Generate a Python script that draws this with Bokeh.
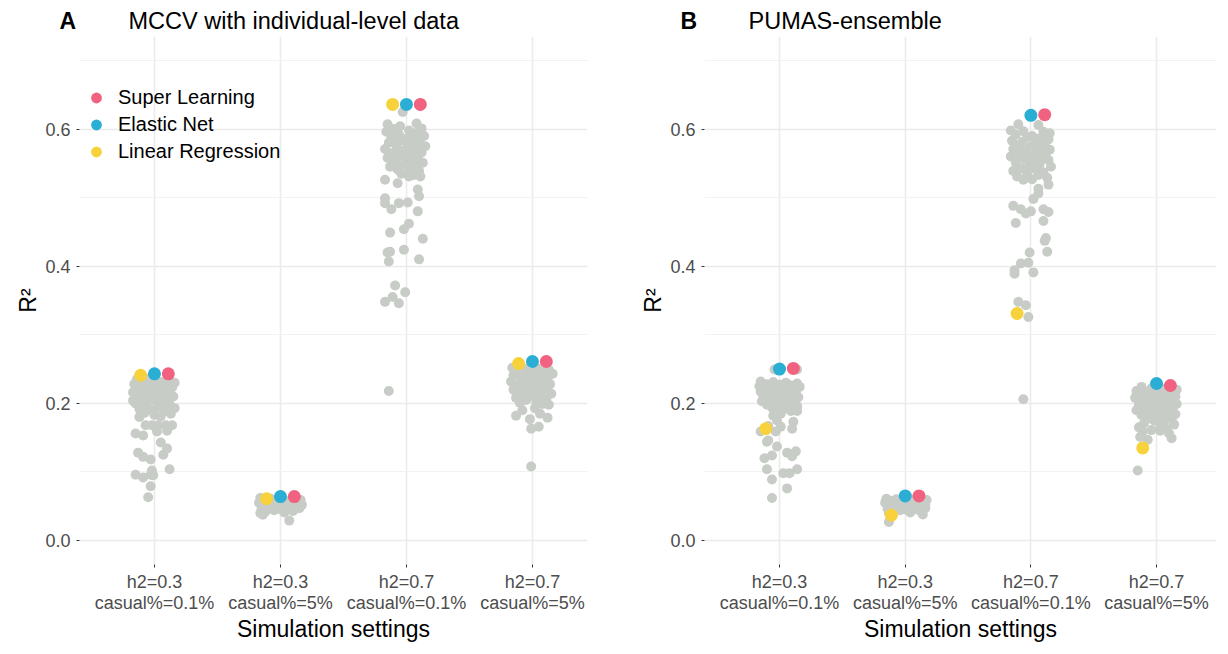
from bokeh.plotting import figure
from bokeh.models import (FixedTicker, Legend, LegendItem, Range1d,
                          PrintfTickFormatter)
from bokeh.layouts import row, column
from bokeh.core.properties import value
from bokeh.embed import file_html
from bokeh.resources import INLINE

settings = ["h2=0.3\ncasual%=0.1%", "h2=0.3\ncasual%=5%",
            "h2=0.7\ncasual%=0.1%", "h2=0.7\ncasual%=5%"]
methods = ["Super Learning", "Elastic Net", "Linear Regression"]

# Best-model R2 per setting
mccv_sl = [0.243, 0.064, 0.636, 0.261]
mccv_en = [0.243, 0.064, 0.636, 0.261]
mccv_lr = [0.241, 0.061, 0.636, 0.258]
pumas_sl = [0.251, 0.065, 0.621, 0.226]
pumas_en = [0.250, 0.065, 0.620, 0.229]
pumas_lr = [0.163, 0.037, 0.331, 0.135]

# Individual model R2 values as (R2, horizontal jitter) pairs
mccv_s1 = [(0.235,-0.14),(0.236,-0.05),(0.232,0.03),(0.234,0.12),(0.230,0.16),
           (0.228,-0.16),(0.226,-0.09),(0.229,-0.02),(0.225,0.06),(0.227,0.10),
           (0.222,-0.12),(0.221,-0.03),(0.219,0.02),(0.220,0.08),(0.223,0.14),
           (0.216,-0.17),(0.214,-0.07),(0.215,0.00),(0.212,0.05),(0.213,0.11),
           (0.209,-0.13),(0.208,-0.04),(0.207,0.09),(0.210,0.15),(0.205,-0.10),
           (0.203,0.01),(0.202,0.06),(0.200,-0.15),(0.199,0.12),(0.197,-0.06),
           (0.195,0.03),(0.193,0.16),(0.192,-0.12),(0.190,-0.02),(0.188,0.08),
           (0.186,-0.08),(0.185,0.13),(0.183,0.00),(0.181,0.05),(0.196,0.10),
           (0.218,-0.10),(0.231,0.07),(0.204,-0.17),(0.211,0.03),(0.224,-0.06),
           (0.180,-0.12),(0.168,-0.07),(0.168,-0.02),(0.168,0.03),(0.168,0.09),
           (0.168,0.14),(0.156,-0.15),(0.153,-0.09),(0.159,0.02),(0.160,0.10),
           (0.143,0.05),(0.134,0.10),(0.125,0.07),(0.128,-0.13),(0.122,-0.09),
           (0.118,-0.03),(0.104,0.12),(0.102,-0.02),(0.096,-0.03),(0.096,-0.15),
           (0.092,-0.09),(0.095,-0.01),(0.079,-0.03),(0.063,-0.05)]
mccv_s2 = [(0.062,-0.16),(0.061,-0.08),(0.060,0.02),(0.061,0.10),(0.059,0.16),
           (0.058,-0.12),(0.057,-0.03),(0.056,0.06),(0.057,0.13),(0.055,-0.17),
           (0.054,-0.07),(0.053,0.00),(0.054,0.09),(0.052,0.17),(0.051,-0.13),
           (0.050,-0.04),(0.049,0.04),(0.050,0.12),(0.048,-0.09),(0.047,0.15),
           (0.046,-0.15),(0.045,0.01),(0.046,0.07),(0.044,-0.05),(0.043,0.10),
           (0.042,-0.12),(0.041,0.03),(0.040,-0.16),(0.052,0.04),(0.058,0.08),
           (0.0375,-0.14),(0.029,0.07)]
mccv_s3 = [(0.607,-0.15),(0.604,-0.05),(0.608,0.08),(0.601,0.12),(0.600,-0.10),
           (0.598,0.02),(0.596,-0.16),(0.594,0.06),(0.592,-0.06),(0.590,0.14),
           (0.588,-0.12),(0.586,0.00),(0.585,0.09),(0.583,-0.03),(0.581,0.04),
           (0.580,-0.14),(0.578,0.11),(0.576,-0.08),(0.575,0.15),(0.573,0.01),
           (0.571,-0.17),(0.570,0.07),(0.568,-0.04),(0.566,0.12),(0.565,-0.11),
           (0.563,0.03),(0.561,-0.06),(0.560,0.09),(0.558,-0.15),(0.556,0.00),
           (0.555,0.05),(0.553,-0.09),(0.551,0.13),(0.549,-0.02),(0.547,0.07),
           (0.545,-0.13),(0.543,0.03),(0.541,-0.07),(0.539,0.10),(0.537,0.01),
           (0.535,-0.04),(0.533,0.06),(0.596,0.10),(0.587,-0.09),(0.574,0.04),
           (0.625,-0.03),(0.531,0.11),(0.531,0.02),(0.521,-0.07),(0.526,-0.17),
           (0.512,0.09),(0.502,0.10),(0.499,-0.17),(0.492,-0.17),(0.483,-0.12),
           (0.492,-0.06),(0.493,0.01),(0.480,0.09),(0.462,0.02),(0.454,-0.02),
           (0.449,-0.13),(0.440,0.13),(0.424,-0.02),(0.421,-0.13),(0.420,-0.15),
           (0.410,0.10),(0.407,-0.14),(0.372,-0.09),(0.362,-0.01),(0.355,-0.11),
           (0.348,-0.17),(0.346,-0.06),(0.218,-0.14)]
mccv_s4 = [(0.252,-0.16),(0.250,-0.06),(0.251,0.04),(0.249,0.13),(0.247,-0.11),
           (0.245,0.00),(0.246,0.09),(0.243,0.16),(0.241,-0.15),(0.240,-0.04),
           (0.239,0.06),(0.237,0.12),(0.235,-0.09),(0.234,0.02),(0.232,-0.17),
           (0.231,0.08),(0.229,-0.03),(0.228,0.14),(0.226,-0.12),(0.225,0.04),
           (0.223,-0.06),(0.222,0.10),(0.220,-0.15),(0.219,0.01),(0.217,0.07),
           (0.215,-0.09),(0.214,0.15),(0.212,-0.02),(0.210,0.05),(0.208,-0.13),
           (0.207,0.11),(0.205,-0.05),(0.203,0.03),(0.201,-0.10),(0.199,0.08),
           (0.244,0.05),(0.236,-0.01),(0.227,0.09),(0.218,-0.07),(0.248,0.11),
           (0.198,0.13),(0.182,-0.13),(0.177,-0.02),(0.185,0.06),(0.179,0.12),
           (0.163,-0.01),(0.166,0.05),(0.190,-0.08),(0.193,0.02),(0.108,-0.01)]

pumas_s1 = [(0.232,-0.15),(0.231,-0.05),(0.230,0.05),(0.229,0.14),(0.228,-0.10),
            (0.227,0.00),(0.226,0.09),(0.225,-0.16),(0.224,0.16),(0.223,-0.06),
            (0.222,0.04),(0.221,0.11),(0.220,-0.12),(0.219,-0.02),(0.218,0.07),
            (0.217,-0.15),(0.216,0.13),(0.215,-0.08),(0.214,0.02),(0.213,0.09),
            (0.212,-0.04),(0.211,-0.13),(0.210,0.05),(0.209,0.15),(0.208,-0.09),
            (0.207,0.00),(0.206,0.10),(0.205,-0.05),(0.204,0.04),(0.203,-0.14),
            (0.202,0.12),(0.201,-0.02),(0.200,0.07),(0.198,-0.10),(0.197,0.02),
            (0.196,0.14),(0.194,-0.06),(0.193,0.05),(0.191,-0.01),(0.189,0.09),
            (0.187,-0.04),(0.185,0.01),(0.228,0.06),(0.218,-0.09),(0.211,0.12),
            (0.2495,-0.04),(0.2495,0.14),(0.189,0.14),(0.182,-0.05),(0.175,-0.02),
            (0.173,0.11),(0.163,0.10),(0.166,0.01),(0.159,-0.03),(0.159,-0.15),
            (0.167,-0.09),(0.146,-0.09),(0.144,-0.10),(0.137,-0.02),(0.128,0.06),
            (0.130,0.13),(0.123,0.10),(0.124,-0.06),(0.120,-0.12),(0.104,-0.10),
            (0.104,0.14),(0.098,0.03),(0.098,0.08),(0.089,-0.06),(0.076,0.06),
            (0.062,-0.06)]
pumas_s2 = [(0.061,-0.15),(0.060,-0.07),(0.062,0.03),(0.061,0.12),(0.059,0.17),
            (0.058,-0.12),(0.057,-0.02),(0.056,0.07),(0.057,0.15),(0.055,-0.16),
            (0.054,-0.06),(0.053,0.02),(0.054,0.10),(0.052,0.16),(0.051,-0.12),
            (0.050,-0.03),(0.049,0.05),(0.050,0.13),(0.048,-0.08),(0.047,0.16),
            (0.046,-0.14),(0.045,0.01),(0.046,0.08),(0.044,-0.04),(0.043,0.12),
            (0.042,-0.10),(0.041,0.04),(0.040,-0.13),(0.053,0.06),(0.058,0.09),
            (0.038,0.14),(0.027,-0.13)]
pumas_s3 = [(0.598,-0.16),(0.597,-0.06),(0.596,0.10),(0.594,0.15),(0.592,-0.12),
            (0.590,0.01),(0.588,-0.03),(0.587,0.08),(0.585,0.14),(0.583,-0.15),
            (0.581,-0.07),(0.580,0.04),(0.578,0.11),(0.576,-0.10),(0.575,0.00),
            (0.573,0.07),(0.571,-0.14),(0.570,0.15),(0.568,-0.04),(0.566,0.05),
            (0.565,0.12),(0.563,-0.09),(0.561,0.02),(0.560,-0.16),(0.558,0.09),
            (0.556,-0.05),(0.555,0.14),(0.553,0.03),(0.551,-0.12),(0.549,0.07),
            (0.547,-0.01),(0.545,0.16),(0.543,-0.08),(0.541,0.04),(0.539,-0.14),
            (0.537,0.10),(0.535,-0.03),(0.533,0.06),(0.531,-0.11),(0.529,0.13),
            (0.527,0.01),(0.526,-0.06),(0.586,0.05),(0.572,0.09),(0.557,-0.02),
            (0.607,-0.10),(0.606,0.06),(0.519,0.14),(0.513,0.06),(0.506,0.06),
            (0.498,0.02),(0.488,-0.14),(0.483,-0.08),(0.477,-0.04),(0.480,0.00),
            (0.483,0.10),(0.479,0.14),(0.466,0.10),(0.463,-0.12),(0.441,0.12),
            (0.437,0.11),(0.421,0.13),(0.420,-0.01),(0.404,-0.08),(0.405,-0.02),
            (0.394,-0.13),(0.389,-0.13),(0.391,0.02),(0.348,-0.10),(0.343,-0.04),
            (0.332,-0.10),(0.326,-0.02),(0.206,-0.06)]
pumas_s4 = [(0.224,-0.12),(0.222,-0.04),(0.221,0.06),(0.220,0.16),(0.218,-0.16),
            (0.217,-0.08),(0.216,0.02),(0.215,0.10),(0.213,-0.13),(0.212,-0.01),
            (0.211,0.07),(0.210,0.15),(0.208,-0.17),(0.207,-0.06),(0.206,0.04),
            (0.205,0.12),(0.203,-0.10),(0.202,0.00),(0.201,0.09),(0.199,0.16),
            (0.198,-0.14),(0.197,-0.03),(0.196,0.06),(0.194,0.13),(0.193,-0.09),
            (0.191,0.02),(0.190,-0.16),(0.189,0.10),(0.187,-0.05),(0.186,0.05),
            (0.184,0.15),(0.183,-0.12),(0.181,0.01),(0.180,0.09),(0.178,-0.07),
            (0.177,0.12),(0.175,-0.02),(0.173,0.06),(0.171,-0.10),(0.169,0.14),
            (0.167,0.03),(0.165,-0.14),(0.163,0.08),(0.161,-0.04),(0.215,0.05),
            (0.159,-0.11),(0.151,-0.13),(0.147,-0.07),(0.160,0.03),(0.156,0.10),
            (0.149,0.12),(0.102,-0.15)]

GRAY = "#C8CCC7"
COLORS = {"Super Learning": "#F0627F", "Elastic Net": "#2AAED4",
          "Linear Regression": "#F7D23C"}
DODGE = {"Linear Regression": -0.11, "Elastic Net": 0.0, "Super Learning": 0.11}
FONT = "Liberation Sans"
TITLE_H = 32
H = 614
TOP, BOTTOM = 4, 82
FRAME_H = H - TOP - BOTTOM


def make_title(letter, title, width, letter_x, title_x):
    t = figure(width=width, height=TITLE_H, x_range=Range1d(0, width),
               y_range=Range1d(0, TITLE_H), output_backend="svg",
               toolbar_location=None, x_axis_location=None,
               y_axis_location=None, min_border=0)
    t.outline_line_color = None
    t.xgrid.visible = False
    t.ygrid.visible = False
    t.text(x=[letter_x], y=[TITLE_H - 20], text=[letter],
           text_font=value(FONT), text_font_size="23px",
           text_font_style="bold", text_baseline="middle", text_align="left",
           text_color="black")
    t.text(x=[title_x], y=[TITLE_H - 20], text=[title],
           text_font=value(FONT), text_font_size="23.5px",
           text_baseline="middle", text_align="left", text_color="black")
    return t


def make_panel(groups, best, width, left, right, xr, legend):
    p = figure(width=width, height=H, x_range=Range1d(*xr),
               y_range=Range1d(-0.035, 0.735), output_backend="svg",
               toolbar_location=None, min_border_left=left,
               min_border_right=right, min_border_top=TOP,
               min_border_bottom=BOTTOM)
    p.outline_line_color = None
    p.background_fill_color = "white"

    xt = FixedTicker(ticks=[1, 2, 3, 4])
    yt = FixedTicker(ticks=[0.0, 0.2, 0.4, 0.6], minor_ticks=[0.1, 0.3, 0.5, 0.7])
    p.xaxis.ticker = xt
    p.xgrid.ticker = xt
    p.yaxis.ticker = yt
    p.ygrid.ticker = yt
    p.xaxis.major_label_overrides = {i + 1: s for i, s in enumerate(settings)}
    p.yaxis.formatter = PrintfTickFormatter(format="%.1f")

    for ax in (p.xaxis, p.yaxis):
        ax.axis_line_color = None
        ax.major_tick_line_color = "#333333"
        ax.major_tick_in = 0
        ax.major_tick_out = 3
        ax.minor_tick_line_color = None
        ax.major_label_text_font = FONT
        ax.major_label_text_font_size = "18px"
        ax.major_label_text_color = "#4D4D4D"
        ax.axis_label_text_font = FONT
        ax.axis_label_text_font_size = "23px"
        ax.axis_label_text_font_style = "normal"
        ax.axis_label_text_color = "black"
    p.xaxis.axis_label = "Simulation settings"
    p.yaxis.axis_label = "R²"
    p.xaxis.major_label_standoff = 4
    p.xaxis.axis_label_standoff = 0
    p.yaxis.major_label_standoff = 5
    p.yaxis.axis_label_standoff = 1
    p.xaxis.major_label_text_line_height = 1.05

    p.xgrid.grid_line_color = "#EBEBEB"
    p.xgrid.grid_line_width = 1.6
    p.ygrid.grid_line_color = "#EBEBEB"
    p.ygrid.grid_line_width = 1.6
    p.ygrid.minor_grid_line_color = "#F2F2F2"
    p.ygrid.minor_grid_line_width = 1.0

    gx, gy = [], []
    for i, pts in enumerate(groups):
        for r2, j in pts:
            gx.append(i + 1 + j)
            gy.append(r2)
    p.scatter(gx, gy, size=10, fill_color=GRAY, line_color=None)

    renderers = {}
    for m in ["Linear Regression", "Elastic Net", "Super Learning"]:
        vals = best[m]
        xs = [i + 1 + DODGE[m] for i in range(len(vals))]
        renderers[m] = p.scatter(xs, vals, size=13, fill_color=COLORS[m],
                                 line_color=None)

    if legend:
        lg = Legend(items=[LegendItem(label=m, renderers=[renderers[m]])
                           for m in methods],
                    location=(2, FRAME_H - 40 - 89))
        lg.background_fill_alpha = 0
        lg.border_line_color = None
        lg.label_text_font = FONT
        lg.label_text_font_size = "20px"
        lg.label_text_color = "black"
        lg.glyph_width = 30
        lg.glyph_height = 27
        lg.label_height = 20
        lg.spacing = 0
        lg.padding = 4
        lg.margin = 0
        lg.label_standoff = 7
        p.add_layout(lg)
    return p


ta = make_title("A", "MCCV with individual-level data", 614, 59, 128)
tb = make_title("B", "PUMAS-ensemble", 606, 66, 134)
pa = make_panel([mccv_s1, mccv_s2, mccv_s3, mccv_s4],
                {"Super Learning": mccv_sl, "Elastic Net": mccv_en,
                 "Linear Regression": mccv_lr},
                614, 79, 27, (0.405, 4.437), True)
pb = make_panel([pumas_s1, pumas_s2, pumas_s3, pumas_s4],
                {"Super Learning": pumas_sl, "Elastic Net": pumas_en,
                 "Linear Regression": pumas_lr},
                606, 90, 4, (0.403, 4.477), False)

layout = column(row(ta, tb), row(pa, pb))
open("out.html", "w").write(file_html(layout, INLINE))
